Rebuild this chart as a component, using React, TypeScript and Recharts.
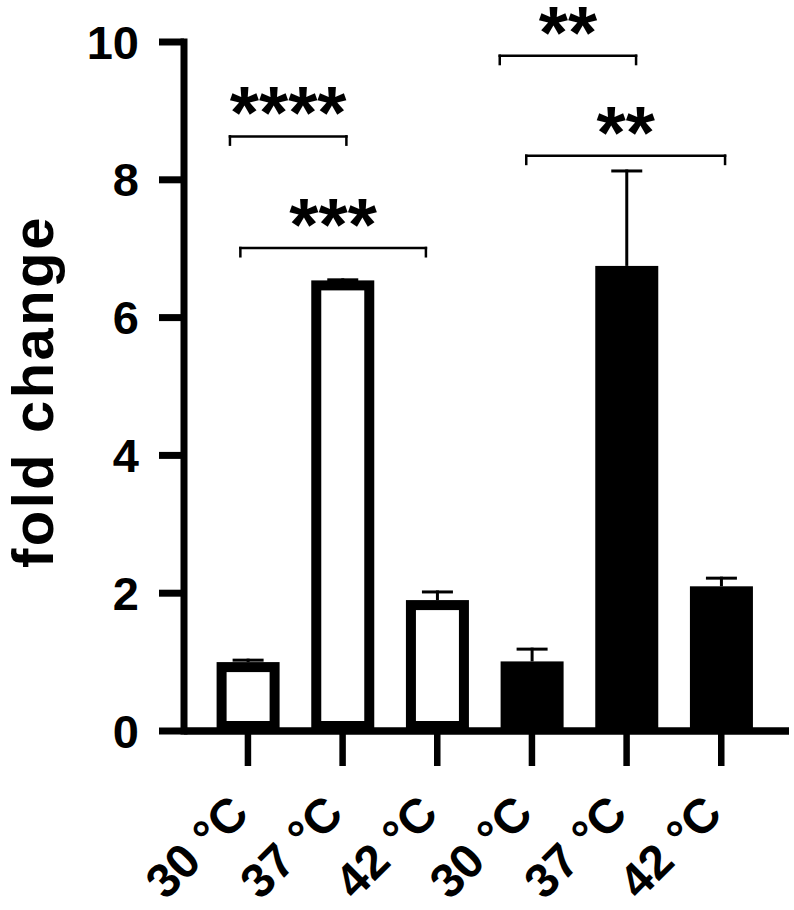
import React from 'react';
import { BarChart, Bar, XAxis, YAxis, ReferenceLine, Label } from 'recharts';

const FONT = '"Liberation Sans", Arial, Helvetica, sans-serif';

// bars: open = first strain, filled = second strain
const temps = ['30 °C', '37 °C', '42 °C', '30 °C', '37 °C', '42 °C'];
const barPos = [1, 2, 3, 4, 5, 6];
const group = [0, 0, 0, 1, 1, 1];
const foldChange = [1.0, 6.54, 1.9, 1.01, 6.75, 2.1];
const errUp = [0.05, 0.03, 0.14, 0.2, 1.4, 0.14];
const yTicks = [0, 2, 4, 6, 8, 10];

// significance brackets, x in bar units (1 = first bar centre)
const bracketFrom = [0.81, 0.92, 3.66, 3.94];
const bracketTo = [2.04, 2.88, 5.1, 6.04];
const bracketY = [8.63, 7.01, 9.8, 8.35];
const bracketStars = ['****', '***', '**', '**'];
const legDrop = 0.12;

const data = temps.map((t, i) => ({
  temp: t,
  pos: barPos[i],
  group: group[i],
  fc: foldChange[i],
  err: errUp[i],
}));

const PAD = { left: 16.6, right: 20.4 };

const BarShape = (props: any) => {
  const { x, y, width, height, index } = props;
  const d = props.payload ?? data[index];
  const sw = 10;
  const perUnit = height / d.fc;
  const top = y - d.err * perUnit;
  const cx = x + width / 2;
  return (
    <g>
      <rect
        x={x + sw / 2}
        y={y + sw / 2}
        width={width - sw}
        height={height - sw}
        fill={d.group === 1 ? '#000' : '#fff'}
        stroke="#000"
        strokeWidth={sw}
      />
      <line x1={cx} x2={cx} y1={y} y2={top} stroke="#000" strokeWidth={3} />
      <line x1={cx - 15.5} x2={cx + 15.5} y1={top + 1.5} y2={top + 1.5} stroke="#000" strokeWidth={3} />
    </g>
  );
};

const TempTick = (props: any) => {
  const { x, y, payload } = props;
  return (
    <text
      transform={`translate(${x + 3},${y + 50}) rotate(-45)`}
      textAnchor="end"
      fontSize={48}
      fontWeight={700}
      fontFamily={FONT}
      fill="#000"
    >
      {payload.value}
    </text>
  );
};

const YTitle = (props: any) => {
  const vb = props.viewBox;
  const cx = vb.x + 53;
  const cy = vb.y + vb.height / 2 + 5;
  return (
    <text
      transform={`translate(${cx},${cy}) rotate(-90)`}
      textAnchor="middle"
      fontSize={58}
      fontWeight={700}
      letterSpacing={2.5}
      fontFamily={FONT}
      fill="#000"
    >
      fold change
    </text>
  );
};

export default function App() {
  return (
    <div style={{ position: 'absolute', left: 0, top: 0, background: '#fff' }}>
      <BarChart width={794} height={910} data={data} margin={{ top: 42, right: 5, bottom: 0, left: 0 }}>
        <XAxis
          dataKey="temp"
          height={179}
          padding={PAD}
          tickSize={35}
          tickMargin={0}
          interval={0}
          axisLine={{ stroke: '#000', strokeWidth: 7.5 }}
          tickLine={{ stroke: '#000', strokeWidth: 6.5 }}
          tick={TempTick}
        />
        <XAxis
          xAxisId="n"
          dataKey="pos"
          type="number"
          scale="linear"
          domain={[0.5, 6.5]}
          hide
          padding={PAD}
          allowDataOverflow
        />
        <YAxis
          domain={[0, 10]}
          ticks={yTicks}
          width={184}
          tickSize={25}
          tickMargin={20}
          interval={0}
          allowDataOverflow
          axisLine={{ stroke: '#000', strokeWidth: 7, strokeLinecap: 'square' }}
          tickLine={{ stroke: '#000', strokeWidth: 7 }}
          tick={{ fill: '#000', fontSize: 47, fontWeight: 700, fontFamily: FONT }}
        >
          <Label content={YTitle} />
        </YAxis>
        <Bar dataKey="fc" barSize={63} shape={BarShape} isAnimationActive={false} />
        {bracketStars.map((s, i) => (
          <ReferenceLine
            key={`h${i}`}
            xAxisId="n"
            segment={[{ x: bracketFrom[i], y: bracketY[i] }, { x: bracketTo[i], y: bracketY[i] }]}
            stroke="#000"
            strokeWidth={2.5}
            strokeLinecap="square"
            label={{ value: s, position: 'top', offset: -2, fontSize: 75, fontWeight: 700, fill: '#000', fontFamily: FONT }}
          />
        ))}
        {bracketStars.map((s, i) => (
          <ReferenceLine
            key={`a${i}`}
            xAxisId="n"
            segment={[{ x: bracketFrom[i], y: bracketY[i] }, { x: bracketFrom[i], y: bracketY[i] - legDrop }]}
            stroke="#000"
            strokeWidth={2.5}
            strokeLinecap="square"
          />
        ))}
        {bracketStars.map((s, i) => (
          <ReferenceLine
            key={`b${i}`}
            xAxisId="n"
            segment={[{ x: bracketTo[i], y: bracketY[i] }, { x: bracketTo[i], y: bracketY[i] - legDrop }]}
            stroke="#000"
            strokeWidth={2.5}
            strokeLinecap="square"
          />
        ))}
      </BarChart>
    </div>
  );
}
